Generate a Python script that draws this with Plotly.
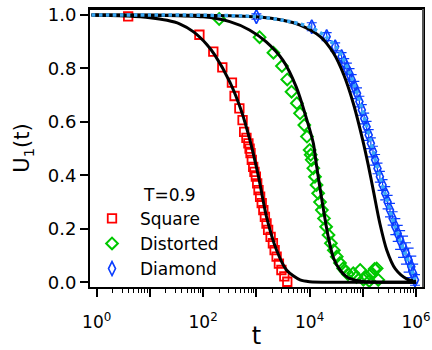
import plotly.graph_objects as go
import numpy as np

# ---- data ----
square_t = [3.9, 85, 155, 229, 347, 389, 479, 550, 589, 650, 708, 745, 776, 820, 871, 920, 977,
            1035, 1096, 1175, 1259, 1350, 1445, 1550, 1660, 1850, 2042, 2200, 2399, 2650, 2951, 3350, 3802]
square_u = [0.995, 0.926, 0.863, 0.804, 0.747, 0.697, 0.651, 0.607, 0.563, 0.54, 0.52, 0.50, 0.483, 0.458,
            0.432, 0.413, 0.395, 0.37, 0.345, 0.32, 0.296, 0.27, 0.245, 0.22, 0.196, 0.17, 0.146, 0.12,
            0.096, 0.07, 0.046, 0.022, 0.002]

distorted_t = [200, 1148, 2089, 3020, 3802, 4571, 5754, 6607, 7943, 8913, 10000, 10471, 10965, 11749,
               12589, 13490, 14454, 15668, 16982, 18621, 20417, 22646, 25119, 28510, 32359, 37154,
               42658, 47863, 52480, 66069, 75858, 89125, 102329, 117490, 131826,
               147911, 165959, 181970, 194984]
distorted_u = [0.985, 0.917, 0.859, 0.809, 0.759, 0.713, 0.670, 0.632, 0.588, 0.545, 0.495, 0.477, 0.458,
               0.427, 0.395, 0.364, 0.333, 0.30, 0.27, 0.239, 0.208, 0.177, 0.146, 0.12, 0.096, 0.072,
               0.052, 0.04, 0.03, 0.034, 0.02, 0.046, 0.01, 0.021, 0.005,
               0.034, 0.05, 0.052, 0.009]

diamond_t = [1000, 10965, 20893, 30200, 39811, 44668, 50119, 56234, 61660, 69183, 77625, 86099, 95499,
             105925, 117490, 128825, 141254, 154882, 169824, 188365, 208930, 234423, 263027, 291743,
             323594, 363078, 407380, 451856, 501187, 568853, 645654, 724436, 812831, 881049, 954993]
diamond_u = [0.994, 0.956, 0.919, 0.881, 0.844, 0.822, 0.80, 0.779, 0.757, 0.732, 0.707, 0.676, 0.645,
             0.613, 0.582, 0.551, 0.52, 0.489, 0.458, 0.426, 0.395, 0.364, 0.333, 0.30, 0.27, 0.239,
             0.208, 0.183, 0.158, 0.133, 0.108, 0.083, 0.058, 0.033, 0.009]
diamond_err = [0.01, 0.015, 0.015, 0.015, 0.015, 0.015, 0.02, 0.02, 0.02, 0.02, 0.02, 0.02, 0.02,
               0.02, 0.02, 0.02, 0.02, 0.02, 0.02, 0.02, 0.02, 0.02, 0.025, 0.025, 0.025, 0.025,
               0.03, 0.03, 0.035, 0.04, 0.04, 0.045, 0.04, 0.035, 0.02]

cyan_t = [0.8, 10, 100, 1000, 3162, 6918, 10965, 19953, 31623, 41687, 56234, 75858, 95499, 117490,
          141254, 169824, 208930, 263027, 323594, 407380, 501187, 630957, 794328, 954993]
cyan_u = [1.0, 1.0, 0.999, 0.994, 0.98, 0.966, 0.952, 0.92, 0.88, 0.84, 0.785, 0.715, 0.65, 0.585,
          0.525, 0.46, 0.395, 0.33, 0.268, 0.205, 0.155, 0.105, 0.055, 0.01]

fit_sq_t = [0.8, 3.9, 10, 21, 36, 66, 117, 166, 316, 525, 759, 1096, 1549, 2399, 3715, 6607, 10000, 31623, 1e6]
fit_sq_u = [1.0, 0.996, 0.99, 0.98, 0.967, 0.937, 0.89, 0.85, 0.75, 0.64, 0.53, 0.395, 0.245, 0.12,
            0.045, 0.009, 0.002, 0.0, 0.0]
fit_di_t = [0.8, 100, 316, 741, 1514, 3162, 5623, 8511, 11749, 13183, 16218, 22387, 28184, 37154,
            50119, 66069, 100000, 1e6]
fit_di_u = [1.0, 0.993, 0.975, 0.944, 0.90, 0.83, 0.73, 0.62, 0.52, 0.45, 0.333, 0.17, 0.09, 0.046,
            0.02, 0.01, 0.003, 0.0]
fit_dm_t = [0.8, 100, 1000, 3162, 6607, 15849, 28184, 42658, 66069, 100000, 125893, 158489, 208930,
            281838, 407380, 676083, 1e6]
fit_dm_u = [1.0, 0.999, 0.993, 0.98, 0.962, 0.919, 0.857, 0.782, 0.67, 0.53, 0.44, 0.34, 0.22, 0.12,
            0.05, 0.012, 0.004]

x_major = [1, 10, 100, 1000, 1e4, 1e5, 1e6]
x_major_text = ["10<sup>0</sup>", "", "10<sup>2</sup>", "", "10<sup>4</sup>", "", "10<sup>6</sup>"]

FONT = "DejaVu Sans"
RED = "#ff0000"
GREEN = "#00c800"
BLUE = "#0a3cff"
CYAN = "#3aa8f5"

fig = go.Figure()
fig.add_trace(go.Scatter(x=square_t, y=square_u, mode="markers", name="Square",
                         marker=dict(symbol="square-open", size=8.5, color=RED, line=dict(width=1.8, color=RED))))
fig.add_trace(go.Scatter(x=distorted_t, y=distorted_u, mode="markers", name="Distorted",
                         marker=dict(symbol="diamond-open", size=9, color=GREEN, line=dict(width=2, color=GREEN))))
fig.add_trace(go.Scatter(x=diamond_t, y=diamond_u, mode="markers", name="Diamond",
                         error_y=dict(type="data", array=diamond_err, color=BLUE, thickness=1.2, width=5),
                         marker=dict(symbol="diamond-tall-open", size=10, color=BLUE, line=dict(width=1.6, color=BLUE))))
for ft, fu in [(fit_sq_t, fit_sq_u), (fit_di_t, fit_di_u), (fit_dm_t, fit_dm_u)]:
    fig.add_trace(go.Scatter(x=ft, y=fu, mode="lines", showlegend=False,
                             line=dict(color="black", width=3, shape="spline", smoothing=0.8)))
fig.add_trace(go.Scatter(x=cyan_t, y=cyan_u, mode="lines", showlegend=False,
                         line=dict(color=CYAN, width=3.5, dash="dot", shape="spline", smoothing=0.8)))

minor_vals = [m * 10 ** k for k in range(0, 6) for m in range(2, 10)]

fig.update_xaxes(type="log", range=[-0.126, 6.13], showgrid=False, zeroline=False, automargin=False,
                 showline=True, linecolor="black", linewidth=2, mirror=True, ticklabeloverflow="allow",
                 ticks="outside", ticklen=8, tickwidth=1.5, tickcolor="black",
                 tickvals=x_major, ticktext=x_major_text, ticklabelstandoff=11,
                 tickfont=dict(family=FONT, size=17, color="black"),
                 minor=dict(tickvals=minor_vals, ticks="outside", ticklen=4, tickwidth=1.2, tickcolor="black"),
                 title=dict(text="t", font=dict(family=FONT, size=24, color="black"), standoff=0))
fig.update_yaxes(range=[-0.0176, 1.0224], showgrid=False, zeroline=False, automargin=False,
                 showline=True, linecolor="black", linewidth=2, mirror=True, ticklabeloverflow="allow",
                 ticks="outside", ticklen=8, tickwidth=2, tickcolor="black",
                 tickvals=[0, 0.2, 0.4, 0.6, 0.8, 1.0], tickformat=".1f",
                 tickfont=dict(family=FONT, size=18, color="black"),
                 title=dict(text="U<sub>1</sub>(t)", font=dict(family=FONT, size=21, color="black"), standoff=12))

fig.update_layout(width=432, height=350, margin=dict(l=90, r=9, t=9, b=63),
                  paper_bgcolor="white", plot_bgcolor="white",
                  font=dict(family=FONT, color="black"),
                  legend=dict(x=-0.018, y=0.31, xanchor="left", yanchor="top", bgcolor="rgba(0,0,0,0)",
                              itemwidth=46,
                              font=dict(family=FONT, size=17, color="black"), tracegroupgap=0),
                  shapes=[dict(type="line", xref="paper", yref="paper", x0=0, x1=1, y0=1, y1=1,
                               line=dict(color="black", width=2), layer="above"),
                          dict(type="line", xref="paper", yref="paper", x0=1, x1=1, y0=0, y1=1,
                               line=dict(color="#555555", width=2), layer="above")],
                  annotations=[dict(text="T=0.9", xref="paper", yref="paper", x=0.153, y=0.331,
                                    xanchor="left", yanchor="middle", showarrow=False,
                                    font=dict(family=FONT, size=17, color="black"))])

# remove the default page margin so the 432x350 figure fills the window exactly
fig.write_html("out.html", config={"displayModeBar": False},
               post_script="document.body.style.margin='0px';")
